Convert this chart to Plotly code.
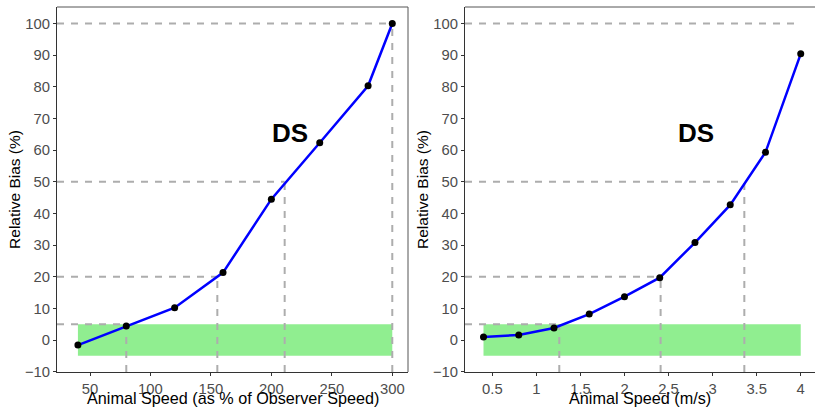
import plotly.graph_objects as go

# ---------------- data ----------------
# Left panel: speed as % of observer speed
pct_speed = [40, 80, 120, 160, 200, 240, 280, 300]
pct_bias = [-1.6, 4.4, 10.2, 21.3, 44.5, 62.3, 80.3, 100.0]
pct_thresh_y = [5, 20, 50, 100]
pct_thresh_x = [80, 155.3, 211, 300]

# Right panel: speed in m/s
ms_speed = [0.4, 0.8, 1.2, 1.6, 2.0, 2.4, 2.8, 3.2, 3.6, 4.0]
ms_bias = [0.95, 1.6, 3.8, 8.2, 13.7, 19.7, 30.8, 42.7, 59.3, 90.4]
ms_thresh_y = [5, 20, 50]
ms_thresh_x = [1.26, 2.41, 3.36]
ms_top_y = 100
ms_top_x = 4.0

band_low, band_high = -5, 5
label_text = "DS"
label_y = 65.5
pct_label_x = 215.4
ms_label_x = 2.81

x1_title = "Animal Speed (as % of Observer Speed)"
x2_title = "Animal Speed (m/s)"
y_title = "Relative Bias (%)"

y_ticks = list(range(-10, 101, 10))
pct_ticks = [50, 100, 150, 200, 250, 300]
ms_ticks = [0.5, 1, 1.5, 2, 2.5, 3, 3.5, 4]

# ---------------- style ----------------
W, H = 815, 407
ML, MR, MT, MB = 57, 0, 7, 35
PW = W - ML - MR
FONT = "Liberation Sans, Arial, sans-serif"
YR = [-10.1, 105.2]
XR1 = [22.7, 313.0]
XR2 = [0.19, 4.162]
DASH_COL = "#ADADAD"
DASH = "7px,7px"

fig = go.Figure()


def add_panel(xa, ya, xs, ys, tx, ty, xr, extra_h=None):
    fig.add_shape(type="rect", xref=xa, yref=ya,
                  x0=xs[0], x1=xs[-1], y0=band_low, y1=band_high,
                  fillcolor="#90EE90", line_width=0, layer="below")
    segs = []
    for a, b in zip(tx, ty):
        segs.append(([xr[0], a], [b, b]))
        segs.append(([a, a], [YR[0], b]))
    if extra_h is not None:
        a, b = extra_h
        segs.append(([xr[0], a], [b, b]))
    for sx, sy in segs:
        fig.add_trace(go.Scatter(x=sx, y=sy, mode="lines",
                                 line=dict(color=DASH_COL, width=2, dash=DASH),
                                 xaxis=xa, yaxis=ya, showlegend=False, hoverinfo="skip"))
    fig.add_trace(go.Scatter(x=xs, y=ys, mode="lines+markers",
                             line=dict(color="#0000FF", width=2.5),
                             marker=dict(color="black", size=7),
                             xaxis=xa, yaxis=ya, showlegend=False, cliponaxis=False))


add_panel("x", "y", pct_speed, pct_bias, pct_thresh_x, pct_thresh_y, XR1)
add_panel("x2", "y2", ms_speed, ms_bias, ms_thresh_x, ms_thresh_y, XR2,
          extra_h=(ms_top_x, ms_top_y))

fig.add_annotation(x=pct_label_x, y=label_y, xref="x", yref="y", text=label_text,
                   showarrow=False, font=dict(family=FONT, size=26, color="black", weight="bold"))
fig.add_annotation(x=ms_label_x, y=label_y, xref="x2", yref="y2", text=label_text,
                   showarrow=False, font=dict(family=FONT, size=26, color="black", weight="bold"))

# x-axis titles placed as annotations below the tick labels
for xd, yd, txt in (("x domain", "y domain", x1_title), ("x2 domain", "y2 domain", x2_title)):
    fig.add_annotation(x=0.5, y=0, xref=xd, yref=yd, text=txt, showarrow=False,
                       xanchor="center", yanchor="top", yshift=-16, borderpad=0,
                       font=dict(family=FONT, size=16.2, color="black"))

# panel borders (top / right)
BORDER = "#555555"
for xd, yd, right in (("x domain", "y domain", True), ("x2 domain", "y2 domain", False)):
    fig.add_shape(type="line", xref=xd, yref=yd, x0=0, x1=1, y0=1, y1=1,
                  line=dict(color=BORDER, width=1))
    if right:
        fig.add_shape(type="line", xref=xd, yref=yd, x0=1, x1=1, y0=0, y1=1,
                      line=dict(color=BORDER, width=1))

axis_common = dict(showline=True, linecolor="#333333", linewidth=1, ticks="outside",
                   ticklen=3, tickwidth=1, tickcolor="#333333", showgrid=False,
                   zeroline=False, automargin=False,
                   tickfont=dict(family=FONT, size=14.8, color="#4D4D4D"))

D1 = [0, (408 - ML) / PW]
D2 = [(465 - ML) / PW, 1.0]

fig.update_layout(
    width=W, height=H,
    margin=dict(l=ML, r=MR, t=MT, b=MB),
    paper_bgcolor="white", plot_bgcolor="white",
    font=dict(family=FONT),
    xaxis=dict(domain=D1, range=XR1, tickvals=pct_ticks, anchor="y", **axis_common),
    yaxis=dict(domain=[0, 1], range=YR, tickvals=y_ticks, anchor="x",
               title=dict(text=y_title,
                          font=dict(family=FONT, size=15.5, color="black"), standoff=0),
               **axis_common),
    xaxis2=dict(domain=D2, range=XR2, tickvals=ms_ticks, anchor="y2", **axis_common),
    yaxis2=dict(domain=[0, 1], range=YR, tickvals=y_ticks, anchor="x2",
                title=dict(text=y_title,
                           font=dict(family=FONT, size=15.5, color="black"), standoff=0),
                **axis_common),
)

fig.write_html("out.html", config={"displayModeBar": False},
               post_script="document.body.style.margin='0';document.body.style.overflow='hidden';")
